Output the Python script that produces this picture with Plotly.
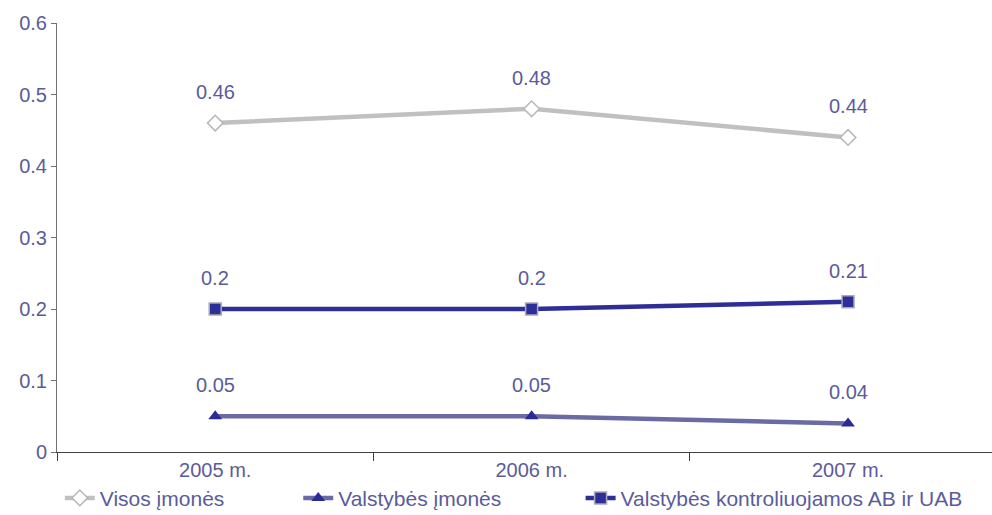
import plotly.graph_objects as go

categories = ["2005 m.", "2006 m.", "2007 m."]
visos = [0.46, 0.48, 0.44]
valst = [0.05, 0.05, 0.04]
kontr = [0.2, 0.2, 0.21]
y_ticks = [0, 0.1, 0.2, 0.3, 0.4, 0.5, 0.6]
y_tick_text = ["0", "0.1", "0.2", "0.3", "0.4", "0.5", "0.6"]

label_color = "#5b5b9b"
font_family = "Liberation Sans, Arial, sans-serif"

series = [
    dict(name="Visos įmonės", y=visos, line="#c0c0c0",
         marker=dict(symbol="diamond", size=12, color="white", line=dict(color="#b8b8b8", width=1.5)),
         legend="legend", lx=0.003),
    dict(name="Valstybės įmonės", y=valst, line="#6a6aa5",
         marker=dict(symbol="triangle-up", size=12, color="#2b2b96", line=dict(width=0)),
         legend="legend2", lx=0.258),
    dict(name="Valstybės kontroliuojamos AB ir UAB", y=kontr, line="#2e2e99",
         marker=dict(symbol="square", size=12, color="#2e2e99", line=dict(color="#a9a9b9", width=1.5)),
         legend="legend3", lx=0.56),
]

fig = go.Figure()
legends = {}
for s in series:
    fig.add_trace(go.Scatter(
        x=categories, y=s["y"], name=s["name"], mode="lines+markers",
        line=dict(color=s["line"], width=4.5),
        marker=s["marker"], legend=s["legend"],
    ))
    for c, v in zip(categories, s["y"]):
        fig.add_annotation(x=c, y=v, text="%g" % v, showarrow=False,
                           yshift=31, font=dict(size=20, color=label_color, family=font_family))
    legends[s["legend"]] = dict(
        orientation="h", x=s["lx"], y=-0.06, xanchor="left", yanchor="top",
        font=dict(size=21, color=label_color, family=font_family),
        bgcolor="rgba(0,0,0,0)",
    )

fig.update_layout(
    width=992, height=515,
    margin=dict(l=57, r=0, t=23, b=63, autoexpand=False),
    paper_bgcolor="white", plot_bgcolor="white",
    font=dict(family=font_family, color=label_color, size=20),
    showlegend=True,
    xaxis=dict(
        type="category", range=[-0.5, 2.455],
        showline=True, linecolor="#404040", linewidth=1,
        ticks="outside", ticklen=8, tickcolor="#404040", tickson="boundaries",
        showgrid=False, zeroline=False,
        tickfont=dict(size=20, color=label_color),
    ),
    yaxis=dict(
        range=[0, 0.6], tickvals=y_ticks, ticktext=y_tick_text,
        showline=True, linecolor="#707070", linewidth=1,
        ticks="outside", ticklen=5, tickcolor="#707070",
        showgrid=False, zeroline=False,
        tickfont=dict(size=20, color=label_color),
    ),
    **legends,
)

fig.write_html("out.html", config={"displayModeBar": False},
               post_script="document.body.style.margin='0';document.body.style.overflow='hidden';")
